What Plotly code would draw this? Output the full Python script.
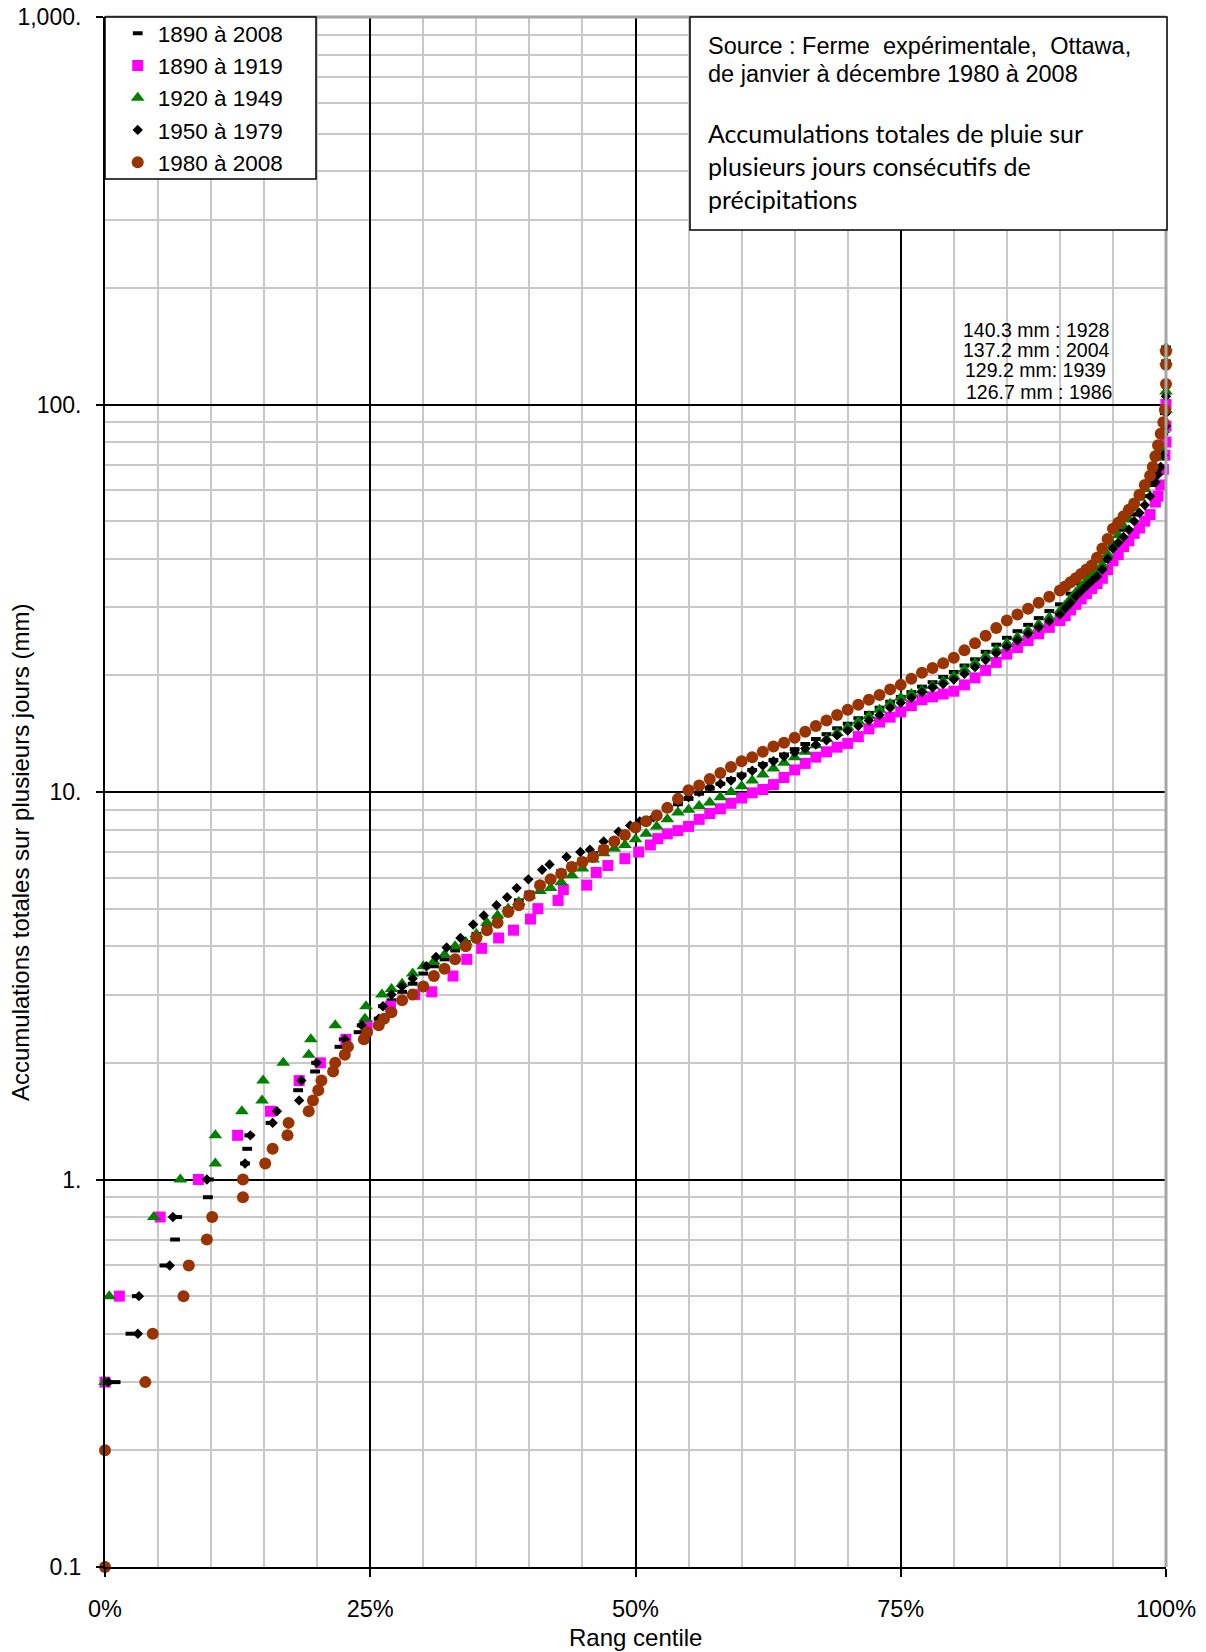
import plotly.graph_objects as go

# ---------------- data ----------------
series_names = ["1890 à 2008", "1890 à 1919", "1920 à 1949", "1950 à 1979", "1980 à 2008"]

pct_1890_2008 = [1.0, 2.4, 3.0, 5.6, 6.6, 6.8, 9.7, 9.8, 13.2, 13.4, 13.6, 15.6, 16.0, 18.2, 18.4, 19.8, 19.9,
                 22.1, 22.5, 23.9, 24.2, 25.8, 26.2, 27, 28, 29, 30, 31, 32, 33, 34, 35, 36, 37, 38, 39, 40,
                 41, 42, 43, 44, 45, 46, 47, 48, 49, 50, 51, 52, 53, 54, 55, 56, 57, 58, 59, 60, 61, 62, 63,
                 64, 65, 66, 67, 68, 69, 70, 71, 72, 73, 74, 75, 76, 77, 78, 79, 80, 81, 82, 83, 84, 85, 86,
                 87, 88, 89, 90, 91, 92, 93, 94, 95, 96, 97, 98, 98.5, 99, 99.5, 99.75, 99.9, 100, 100, 100,
                 100, 100]
mm_1890_2008 = [0.3, 0.4, 0.5, 0.6, 0.7, 0.8, 0.9, 1.0, 1.1, 1.2, 1.3, 1.4, 1.5, 1.7, 1.8, 1.9, 2.0,
                2.2, 2.3, 2.4, 2.5, 2.6, 2.8, 2.9, 3.05, 3.2, 3.4, 3.55, 3.7, 3.9, 4.1, 4.3, 4.5, 4.75, 5.0,
                5.25, 5.5, 5.8, 6.0, 6.25, 6.5, 6.7, 6.95, 7.2, 7.5, 7.8, 8.1, 8.4, 8.7, 9.0, 9.3, 9.6, 9.9,
                10.2, 10.5, 10.8, 11.1, 11.4, 11.8, 12.1, 12.5, 12.9, 13.3, 13.7, 14.1, 14.6, 15.0, 15.5,
                16.0, 16.5, 17.1, 17.6, 18.1, 18.7, 19.2, 19.8, 20.4, 21.2, 22.0, 23.0, 24.0, 25.0, 26.0,
                27.0, 28.1, 29.3, 30.5, 32.5, 34.5, 36.5, 39.5, 43.5, 47.5, 52, 58, 62, 67, 76, 84, 95,
                113, 126.7, 129.2, 137.2, 140.3]

pct_1890_1919 = [0, 1.35, 5.2, 8.8, 12.5, 15.6, 18.3, 20.3, 22.7, 24.7, 26.9, 29.2, 30.8, 32.8, 34.1, 35.5,
                 37.1, 38.5, 40.1, 40.8, 42.7, 43.2, 45.4, 46.3, 47.4, 49.0, 50.3, 51.4, 52.1, 53, 54, 55,
                 56, 57, 58, 59, 60, 61, 62, 63, 64, 65, 66, 67, 68, 69, 70, 71, 72, 73, 74, 75, 76, 77, 78,
                 79, 80, 81, 82, 83, 84, 85, 86, 87, 88, 89, 90, 90.5, 91, 91.5, 92, 92.5, 93, 93.5, 94,
                 94.5, 95, 95.5, 96, 96.5, 97, 97.5, 98, 98.5, 99, 99.25, 99.5, 99.75, 99.9, 100, 100, 100]
mm_1890_1919 = [0.3, 0.5, 0.8, 1.0, 1.3, 1.5, 1.8, 2.0, 2.3, 2.5, 2.8, 3.0, 3.05, 3.35, 3.7, 3.95,
                4.2, 4.4, 4.7, 5.0, 5.25, 5.6, 5.75, 6.2, 6.46, 6.73, 7.0, 7.3, 7.58, 7.8, 7.95, 8.15,
                8.5, 8.8, 9.05, 9.35, 9.65, 9.95, 10.15, 10.45, 10.9, 11.4, 11.85, 12.3, 12.7, 13.05, 13.35,
                13.9, 14.55, 15.15, 15.6, 16.1, 16.7, 17.3, 17.6, 17.9, 18.2, 18.9, 19.7, 20.6, 21.6, 22.7,
                23.6, 24.6, 25.6, 26.6, 27.7, 28.5, 29.5, 30.5, 31.5, 32.5, 33.5, 34.5, 35.6, 37.5, 39.5,
                41, 43, 44.5, 46.5, 48, 50, 52, 56, 58, 62, 68, 74, 80, 88, 100]

pct_1920_1949 = [0, 0.4, 4.6, 7.1, 10.4, 10.4, 12.9, 14.8, 14.9, 16.8, 19.2, 19.4, 21.7, 24.5, 24.6, 26.1,
                 27, 28, 29, 30, 31, 32, 33, 34, 35, 36, 37, 38, 39, 40, 41, 42, 43, 44, 45, 46, 47, 48, 49,
                 50, 51, 52, 53, 54, 55, 56, 57, 58, 59, 60, 61, 62, 63, 64, 65, 66, 67, 68, 69, 70, 71, 72,
                 73, 74, 75, 76, 77, 78, 79, 80, 81, 82, 83, 84, 85, 86, 87, 88, 89, 90, 90.5, 91, 91.5, 92,
                 92.5, 93, 93.5, 94, 94.5, 95, 95.5, 96, 96.5, 97, 97.5, 98, 98.5, 99, 99.25, 99.5, 99.75,
                 100, 100, 100, 100]
mm_1920_1949 = [0.3, 0.5, 0.8, 1.0, 1.1, 1.3, 1.5, 1.6, 1.8, 2.0, 2.1, 2.3, 2.5, 2.6, 2.8, 3.0,
                3.1, 3.2, 3.4, 3.55, 3.65, 3.8, 4.0, 4.1, 4.3, 4.6, 4.8, 5.0, 5.2, 5.4, 5.55, 5.65, 5.85,
                6.1, 6.35, 6.7, 6.95, 7.15, 7.3, 7.55, 7.8, 8.15, 8.5, 8.85, 9.0, 9.2, 9.4, 9.7, 10.0,
                10.35, 10.7, 11.1, 11.5, 11.9, 12.3, 12.7, 13.2, 13.7, 14.2, 14.7, 15.2, 15.7, 16.3, 16.9,
                17.5, 17.9, 18.3, 18.8, 19.3, 19.9, 20.7, 21.5, 22.4, 23.3, 24.2, 25.1, 26.1, 27.1, 28.2,
                29.3, 30.3, 31.5, 32.7, 33.9, 35.0, 36.2, 37.3, 38.5, 41, 43.5, 46, 48.5, 50.5, 54, 57.5,
                60.5, 63.5, 69, 73, 77, 86, 97, 108, 129.2, 140.3]

pct_1950_1979 = [0.3, 3.1, 3.2, 6.1, 6.4, 9.6, 13.2, 13.7, 15.8, 16.2, 18.3, 18.5, 19.95, 22.6, 24.2, 25.8,
                 26.2, 27, 28, 29, 30.3, 31.2, 32.2, 33.5, 34.7, 35.7, 36.9, 37.9, 38.8, 39.9, 41.2, 41.9,
                 43.5, 44.8, 45.7, 47, 48.4, 49.5, 50.4, 51.7, 53, 54, 55, 56, 57, 58, 59, 60, 61, 62, 63,
                 64, 65, 66, 67, 68, 69, 70, 71, 72, 73, 74, 75, 76, 77, 78, 79, 80, 81, 82, 83, 84, 85, 86,
                 87, 88, 89, 90, 90.5, 91, 91.5, 92, 92.5, 93, 93.5, 94, 94.5, 95, 95.5, 96, 96.5, 97, 97.5,
                 98, 98.5, 99, 99.25, 99.5, 99.75, 100, 100, 100]
mm_1950_1979 = [0.3, 0.4, 0.5, 0.6, 0.8, 1.0, 1.1, 1.3, 1.4, 1.5, 1.6, 1.8, 2.0, 2.3, 2.5, 2.6,
                2.8, 3.0, 3.15, 3.3, 3.55, 3.75, 3.97, 4.2, 4.55, 4.8, 5.1, 5.35, 5.65, 5.95, 6.3, 6.5,
                6.8, 7.0, 7.1, 7.45, 7.9, 8.2, 8.4, 8.6, 9.1, 9.4, 9.7, 10.0, 10.3, 10.5, 10.7, 11.0,
                11.35, 11.7, 12.0, 12.35, 12.65, 12.95, 13.25, 13.6, 14.0, 14.4, 14.8, 15.3, 15.8, 16.5,
                17.0, 17.5, 18.1, 18.6, 19.0, 19.5, 20.2, 21.0, 21.9, 22.8, 23.7, 24.6, 25.6, 26.6, 27.6,
                28.7, 29.8, 30.8, 32, 33, 34, 35, 36, 37.5, 40, 42.5, 44, 45.5, 47.5, 50, 52.5, 55, 58, 63,
                66, 69, 74, 88, 95, 105]

pct_1980_2008 = [0, 0, 3.8, 4.5, 7.4, 7.9, 9.6, 10.1, 13, 13, 15.1, 15.8, 17.2, 17.3, 19.2, 19.6, 20.1,
                 20.4, 21.5, 21.7, 22.6, 22.9, 24.4, 24.7, 25.8, 26.3, 27, 28, 29, 30, 31, 32, 33, 34, 35,
                 36, 37, 38, 39, 40, 41, 42, 43, 44, 45, 46, 47, 48, 49, 50, 51, 52, 53, 54, 55, 56, 57, 58,
                 59, 60, 61, 62, 63, 64, 65, 66, 67, 68, 69, 70, 71, 72, 73, 74, 75, 76, 77, 78, 79, 80, 81,
                 82, 83, 84, 85, 86, 87, 88, 89, 90, 90.5, 91, 91.5, 92, 92.5, 93, 93.5, 94, 94.5, 95, 95.5,
                 96, 96.5, 97, 97.5, 98, 98.5, 98.75, 99, 99.25, 99.5, 99.75, 99.9, 100, 100, 100]
mm_1980_2008 = [0.1, 0.2, 0.3, 0.4, 0.5, 0.6, 0.7, 0.8, 0.9, 1.0, 1.1, 1.2, 1.3, 1.4, 1.5, 1.6, 1.7,
                1.8, 1.9, 2.0, 2.1, 2.2, 2.3, 2.4, 2.5, 2.6, 2.7, 2.9, 3.0, 3.15, 3.35, 3.5, 3.7, 4.0, 4.2,
                4.4, 4.6, 4.9, 5.1, 5.4, 5.75, 5.95, 6.15, 6.4, 6.6, 6.8, 7.1, 7.45, 7.75, 8.1, 8.4, 8.7,
                9.1, 9.6, 10.1, 10.4, 10.8, 11.2, 11.6, 12.0, 12.3, 12.7, 13.1, 13.4, 13.8, 14.3, 14.8,
                15.3, 15.8, 16.3, 16.8, 17.3, 17.8, 18.4, 18.9, 19.6, 20.3, 20.9, 21.5, 22.2, 23.2, 24.2,
                25.3, 26.5, 27.7, 28.7, 29.7, 30.8, 31.9, 33.1, 33.9, 34.8, 35.6, 36.5, 37.5, 38.4, 40.2,
                42.5, 45.0, 47.8, 49.5, 51.5, 53.5, 55.5, 58.5, 62, 65.5, 69, 73.5, 78.5, 84, 90, 97, 113,
                126.7, 137.2]

x_tick_vals = [0, 25, 50, 75, 100]
x_tick_text = ["0%", "25%", "50%", "75%", "100%"]
y_tick_vals = [0.1, 1, 10, 100, 1000]
y_tick_text = ["0.1", "1.", "10.", "100.", "1,000."]
y_minor_vals = [m * 10 ** e for e in range(-1, 3) for m in range(2, 10)]

record_labels = ["140.3 mm : 1928", "137.2 mm : 2004", "129.2 mm: 1939", "126.7 mm : 1986"]
source_lines = ["Source : Ferme  expérimentale,  Ottawa,", "de janvier à décembre 1980 à 2008"]
desc_lines = ["Accumulations totales de pluie sur", "plusieurs jours consécutifs de", "précipitations"]

# ---------------- figure ----------------
W, H = 1206, 1652
L, R, T, B = 105, 40, 17, 85
PW, PH = W - L - R, H - T - B


def px_x(x):
    return (x - L) / PW


def px_y(y):
    return (H - B - y) / PH


FONT = "Liberation Sans, Arial, sans-serif"

series_x = [pct_1890_2008, pct_1890_1919, pct_1920_1949, pct_1950_1979, pct_1980_2008]
series_y = [mm_1890_2008, mm_1890_1919, mm_1920_1949, mm_1950_1979, mm_1980_2008]
series_marker = [
    dict(symbol="line-ew", size=7, color="black", line=dict(width=4, color="black")),
    dict(symbol="square", size=11, color="#FF00FF"),
    dict(symbol="triangle-up", size=12, color="#008000"),
    dict(symbol="diamond", size=8, color="black"),
    dict(symbol="circle", size=12, color="#993300"),
]

fig = go.Figure()
for name, xs, ys, mk in zip(series_names, series_x, series_y, series_marker):
    fig.add_trace(go.Scatter(x=xs, y=ys, mode="markers", name=name, marker=mk, cliponaxis=False))

fig.update_layout(
    width=W, height=H,
    margin=dict(l=L, r=R, t=T, b=B, pad=0, autoexpand=False),
    paper_bgcolor="white", plot_bgcolor="white",
    font=dict(family=FONT, size=23, color="black"),
    showlegend=True,
    legend=dict(x=0.012, y=1.0032, xanchor="left", yanchor="top", bgcolor="rgba(0,0,0,0)",
                borderwidth=0, font=dict(size=22.5, family=FONT), itemwidth=30, tracegroupgap=0),
    xaxis=dict(range=[0, 100], tickvals=x_tick_vals, ticktext=x_tick_text, automargin=False,
               showgrid=True, gridcolor="black", gridwidth=1.5,
               showline=True, linecolor="black", linewidth=2,
               ticks="outside", ticklen=8, tickwidth=1.5, tickcolor="black",
               ticklabelstandoff=12, zeroline=False, tickfont=dict(size=23.5, family=FONT),
               minor=dict(dtick=5, tick0=0, showgrid=True, gridcolor="#c8c8c8", gridwidth=1.6, ticks="")),
    yaxis=dict(type="log", range=[-1, 3], tickvals=y_tick_vals, ticktext=y_tick_text, automargin=False,
               showgrid=True, gridcolor="black", gridwidth=1.5,
               showline=True, linecolor="black", linewidth=2,
               ticks="outside", ticklen=7, tickwidth=1.5, tickcolor="black",
               ticklabelstandoff=10, zeroline=False, tickfont=dict(size=23, family=FONT),
               minor=dict(tickvals=y_minor_vals, showgrid=True, gridcolor="#c8c8c8", gridwidth=1.6, ticks="")),
)

shapes = [
    # top and right frame (grey)
    dict(type="line", xref="paper", yref="paper", x0=0, x1=1, y0=1, y1=1, line=dict(color="#a6a6a6", width=3)),
    dict(type="line", xref="paper", yref="paper", x0=1, x1=1, y0=0, y1=1, line=dict(color="#a6a6a6", width=3)),
    # legend box
    dict(type="rect", xref="paper", yref="paper", x0=px_x(105), x1=px_x(316), y0=px_y(179), y1=px_y(17),
         fillcolor="white", line=dict(color="black", width=1.5), layer="above"),
    # text box
    dict(type="rect", xref="paper", yref="paper", x0=px_x(690), x1=px_x(1167), y0=px_y(230), y1=px_y(17),
         fillcolor="white", line=dict(color="black", width=1.5), layer="above"),
]
fig.update_layout(shapes=shapes)

ann = []
# axis titles
ann.append(dict(text="Accumulations totales sur plusieurs jours (mm)", xref="paper", yref="paper",
                x=px_x(20), y=px_y(852), textangle=-90, showarrow=False,
                xanchor="center", yanchor="middle", font=dict(size=24, family=FONT)))
ann.append(dict(text="Rang centile", xref="paper", yref="paper", x=0.5, y=px_y(1637), showarrow=False,
                xanchor="center", yanchor="middle", font=dict(size=24, family=FONT)))
# text box content
for txt, yy in zip(source_lines, [46, 74]):
    ann.append(dict(text=txt, xref="paper", yref="paper", x=px_x(706), y=px_y(yy), showarrow=False,
                    xanchor="left", yanchor="middle", font=dict(size=23.5, family=FONT)))
for txt, yy in zip(desc_lines, [133, 166, 199]):
    ann.append(dict(text=txt, xref="paper", yref="paper", x=px_x(706), y=px_y(yy), showarrow=False,
                    xanchor="left", yanchor="middle", font=dict(size=25, family="Lato, sans-serif")))
# record labels
for txt, xx, yy in zip(record_labels, [961, 961, 963, 964], [330, 350, 370, 392]):
    ann.append(dict(text=txt, xref="paper", yref="paper", x=px_x(xx), y=px_y(yy), showarrow=False,
                    xanchor="left", yanchor="middle", font=dict(size=19.5, family=FONT)))
fig.update_layout(annotations=ann)

fig.write_html("out.html")
